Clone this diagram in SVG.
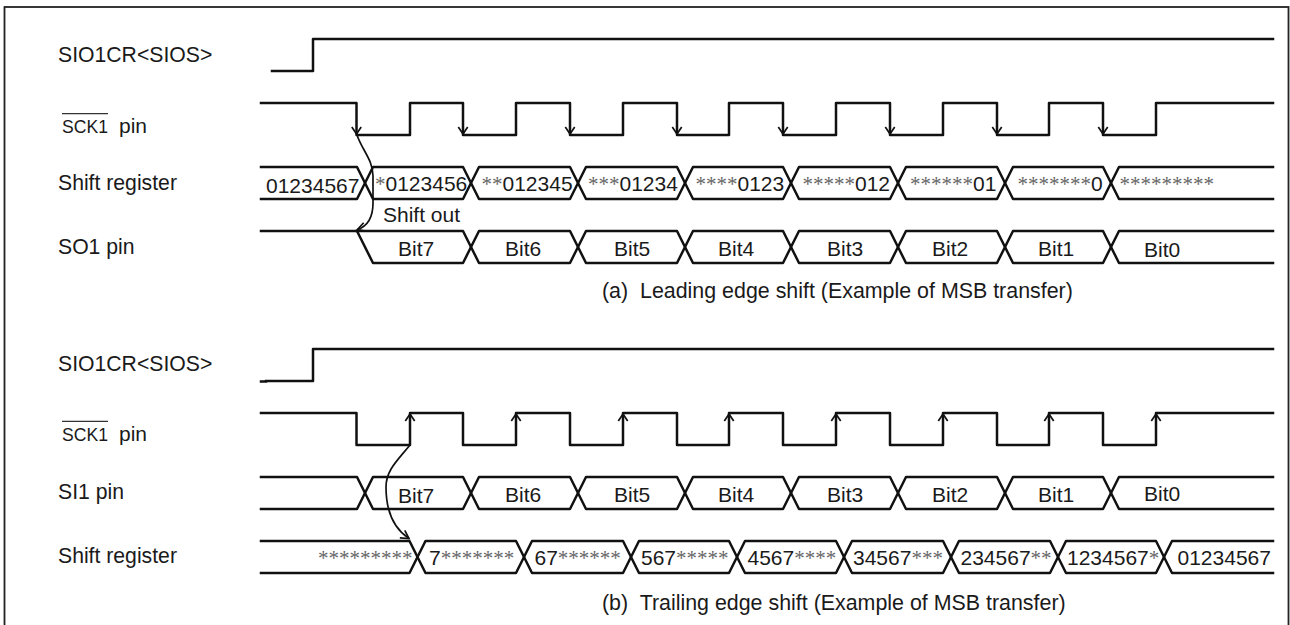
<svg xmlns="http://www.w3.org/2000/svg" width="1290" height="625" viewBox="0 0 1290 625">
<style>
text{font-family:"Liberation Sans",Arial,sans-serif;font-size:21px;fill:#1a1a1a;white-space:pre}
.s{font-family:"Liberation Serif","Times New Roman",serif;fill:#666}
.k{font-size:17.6px}
.c{font-size:21.4px}
.l{font-size:21.2px}
.w{fill:none;stroke:#111;stroke-width:2.5;stroke-linejoin:round;stroke-linecap:square}
.a{fill:none;stroke:#111;stroke-width:1.7;stroke-linejoin:miter}
.o{stroke:#333;stroke-width:1.2}
</style>
<defs>
<path id="dn" class="a" d="M-4.7,-8 L0,-1 L4.7,-8"/>
<path id="up" class="a" d="M-4.7,8 L0,1 L4.7,8"/>
<marker id="tip" markerUnits="userSpaceOnUse" markerWidth="14" markerHeight="14" refX="10" refY="7" orient="auto" overflow="visible">
<path class="a" d="M2,2.5 L10,7 L2,11.5"/>
</marker>
</defs>
<rect x="4.5" y="7" width="1284" height="630" fill="#fff" stroke="#222" stroke-width="1.8"/>

<g id="a-sios">
<text class="l" x="58" y="62">SIO1CR&lt;SIOS&gt;</text>
<path class="w" d="M272,71 H313 V39 H1273"/>
</g>
<g id="a-sck">
<line class="o" x1="62" y1="113.7" x2="108" y2="113.7"/>
<text x="62" y="133"><tspan class="k">SCK1</tspan></text>
<text x="119" y="133">pin</text>
<path class="w" d="M261,103 H356.5 V135 H410 V103 H463 V135 H516 V103 H570 V135 H623 V103 H677 V135 H729 V103 H783 V135 H836 V103 H890 V135 H943 V103 H997 V135 H1049 V103 H1103 V135 H1156 V103 H1273"/>
</g>
<g id="a-shift">
<text class="l" x="58" y="190">Shift register</text>
<path class="w" d="M261,167 H357 L373,199 H463 L479,167 H570 L586,199 H677 L693,167 H783 L799,199 H890 L906,167 H997 L1013,199 H1103 L1119,167 H1273"/>
<path class="w" d="M261,199 H357 L373,167 H463 L479,199 H570 L586,167 H677 L693,199 H783 L799,167 H890 L906,199 H997 L1013,167 H1103 L1119,199 H1273"/>
<text x="266" y="192.5">01234567</text>
<text x="375" y="191"><tspan class="s">*</tspan>0123456</text>
<text x="481.5" y="191"><tspan class="s">**</tspan>012345</text>
<text x="588" y="191"><tspan class="s">***</tspan>01234</text>
<text x="695.500" y="191"><tspan class="s">****</tspan>0123</text>
<text x="802.500" y="191"><tspan class="s">*****</tspan>012</text>
<text x="910" y="191"><tspan class="s">******</tspan>01</text>
<text x="1017.500" y="191"><tspan class="s">*******</tspan>0</text>
<text class="s" x="1119.500" y="191">*********</text>
</g>
<g id="a-so1">
<text class="l" x="58" y="254">SO1 pin</text>
<path class="w" d="M261,231 H357 L373,263 H463 L479,231 H570 L586,263 H677 L693,231 H783 L799,263 H890 L906,231 H997 L1013,263 H1103 L1119,231 H1273"/>
<path class="w" d="M357,231 H463 L479,263 H570 L586,231 H677 L693,263 H783 L799,231 H890 L906,263 H997 L1013,231 H1103 L1119,263 H1273"/>
<text x="398" y="256">Bit7</text>
<text x="505" y="256">Bit6</text>
<text x="614" y="256">Bit5</text>
<text x="718" y="256">Bit4</text>
<text x="827" y="256">Bit3</text>
<text x="932" y="256">Bit2</text>
<text x="1038" y="256">Bit1</text>
<text x="1144" y="257">Bit0</text>
</g>
<text x="383" y="222">Shift out</text>
<text class="c" x="602" y="298">(a)  Leading edge shift (Example of MSB transfer)</text>

<g id="b-sios">
<text class="l" x="58" y="371">SIO1CR&lt;SIOS&gt;</text>
<path class="w" d="M261,381.500 H266 M266,381 H313 V349 H1273"/>
</g>
<g id="b-sck">
<line class="o" x1="62" y1="421.3" x2="108" y2="421.3"/>
<text x="62" y="441"><tspan class="k">SCK1</tspan></text>
<text x="119" y="441">pin</text>
<path class="w" d="M261,413 H356.5 V445 H410 V413 H463 V445 H516 V413 H570 V445 H623 V413 H677 V445 H729 V413 H783 V445 H836 V413 H890 V445 H943 V413 H997 V445 H1049 V413 H1103 V445 H1156 V413 H1273"/>
</g>
<g id="b-si1">
<text class="l" x="58" y="499">SI1 pin</text>
<path class="w" d="M261,477 H357 L373,509 H463 L479,477 H570 L586,509 H677 L693,477 H783 L799,509 H890 L906,477 H997 L1013,509 H1103 L1119,477 H1273"/>
<path class="w" d="M261,509 H357 L373,477 H463 L479,509 H570 L586,477 H677 L693,509 H783 L799,477 H890 L906,509 H997 L1013,477 H1103 L1119,509 H1273"/>
<text x="398" y="503">Bit7</text>
<text x="505" y="502">Bit6</text>
<text x="614" y="502">Bit5</text>
<text x="718" y="502">Bit4</text>
<text x="827" y="502">Bit3</text>
<text x="932" y="502">Bit2</text>
<text x="1038" y="502">Bit1</text>
<text x="1144" y="501">Bit0</text>
</g>
<g id="b-shift">
<text class="l" x="58" y="563">Shift register</text>
<path class="w" d="M261,541 H409.500 L425.500,573 H516 L532,541 H623 L639,573 H729 L745,541 H836 L852,573 H943 L959,541 H1050 L1066,573 H1156 L1172,541 H1273"/>
<path class="w" d="M261,573 H409.500 L425.500,541 H516 L532,573 H623 L639,541 H729 L745,573 H836 L852,541 H943 L959,573 H1050 L1066,541 H1156 L1172,573 H1273"/>
<text class="s" x="318" y="565">*********</text>
<text x="429" y="565">7<tspan class="s">*******</tspan></text>
<text x="534.500" y="565">67<tspan class="s">******</tspan></text>
<text x="641" y="565">567<tspan class="s">*****</tspan></text>
<text x="747.500" y="565">4567<tspan class="s">****</tspan></text>
<text x="853" y="565">34567<tspan class="s">***</tspan></text>
<text x="960.500" y="565">234567<tspan class="s">**</tspan></text>
<text x="1067" y="565">1234567<tspan class="s">*</tspan></text>
<text x="1177.500" y="565">01234567</text>
</g>
<text class="c" x="602" y="610">(b)  Trailing edge shift (Example of MSB transfer)</text>

<g id="connectors">
<use href="#dn" x="356.5" y="135"/><use href="#dn" x="463" y="135"/><use href="#dn" x="570" y="135"/><use href="#dn" x="677" y="135"/><use href="#dn" x="783" y="135"/><use href="#dn" x="890" y="135"/><use href="#dn" x="997" y="135"/><use href="#dn" x="1103" y="135"/>
<use href="#up" x="410" y="413"/><use href="#up" x="516" y="413"/><use href="#up" x="623" y="413"/><use href="#up" x="729" y="413"/><use href="#up" x="836" y="413"/><use href="#up" x="943" y="413"/><use href="#up" x="1049" y="413"/><use href="#up" x="1156" y="413"/>
<path class="a" marker-end="url(#tip)" d="M357,135 C362,150 373,160 373,176 L373,203 C373,216 368,226 357.500,229.500"/>
<path class="a" marker-end="url(#tip)" d="M410,445 C398,460 386,470 386,487 C386,510 393,528 409,538.500"/>
</g>
</svg>
